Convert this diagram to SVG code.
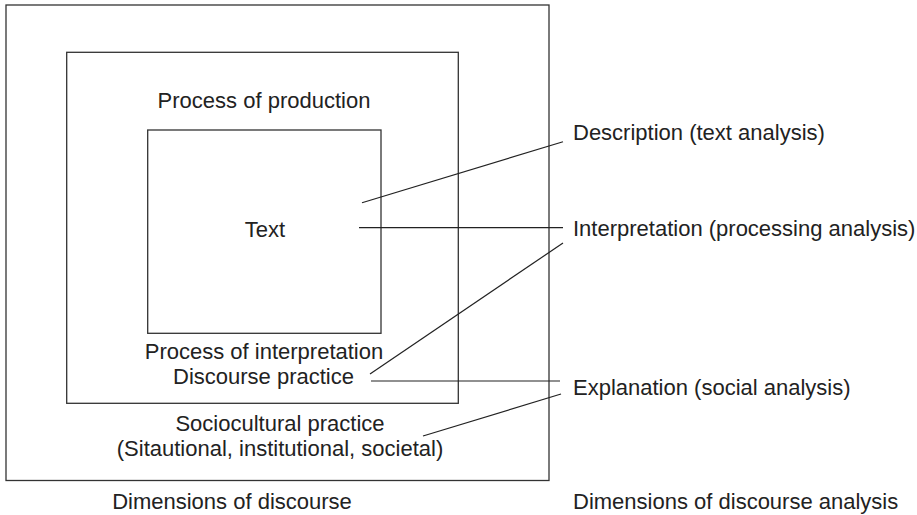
<svg xmlns="http://www.w3.org/2000/svg" width="917" height="515" viewBox="0 0 917 515">
<style>
.box{fill:none;stroke:#333;stroke-width:1.3}
.ln{fill:none;stroke:#222;stroke-width:1.2}
text{font-family:"Liberation Sans",Arial,sans-serif;font-size:22px;fill:#222}
.c{text-anchor:middle}
</style>
<rect width="917" height="515" fill="#fff"/>
<g id="sociocultural">
<rect class="box" x="6" y="5" width="543" height="475.5"/>
<text class="c" x="280" y="431">Sociocultural practice</text>
<text class="c" x="280" y="456">(Sitautional, institutional, societal)</text>
</g>
<g id="discourse-practice">
<rect class="box" x="66.7" y="52.3" width="391.6" height="351"/>
<text class="c" x="264" y="359">Process of interpretation</text>
<text class="c" x="264" y="108">Process of production</text>
<text class="c" x="263.5" y="384">Discourse practice</text>
</g>
<g id="text-box">
<rect class="box" x="147.7" y="130" width="233.3" height="203.3"/>
<text class="c" x="265" y="237">Text</text>
</g>
<g id="connectors">
<line class="ln" x1="362" y1="202.7" x2="563" y2="141.7"/>
<line class="ln" x1="359" y1="227.7" x2="563" y2="227.7"/>
<line class="ln" x1="370" y1="374" x2="563" y2="243"/>
<line class="ln" x1="371" y1="381" x2="560" y2="381"/>
<line class="ln" x1="423" y1="436" x2="561" y2="394"/>
</g>
<g id="description"><text x="573" y="140">Description (text analysis)</text></g>
<g id="interpretation"><text x="573" y="236">Interpretation (processing analysis)</text></g>
<g id="explanation"><text x="573" y="395">Explanation (social analysis)</text></g>
<g id="captions">
<text class="c" x="232" y="509">Dimensions of discourse</text>
<text x="573" y="509">Dimensions of discourse analysis</text>
</g>
</svg>
